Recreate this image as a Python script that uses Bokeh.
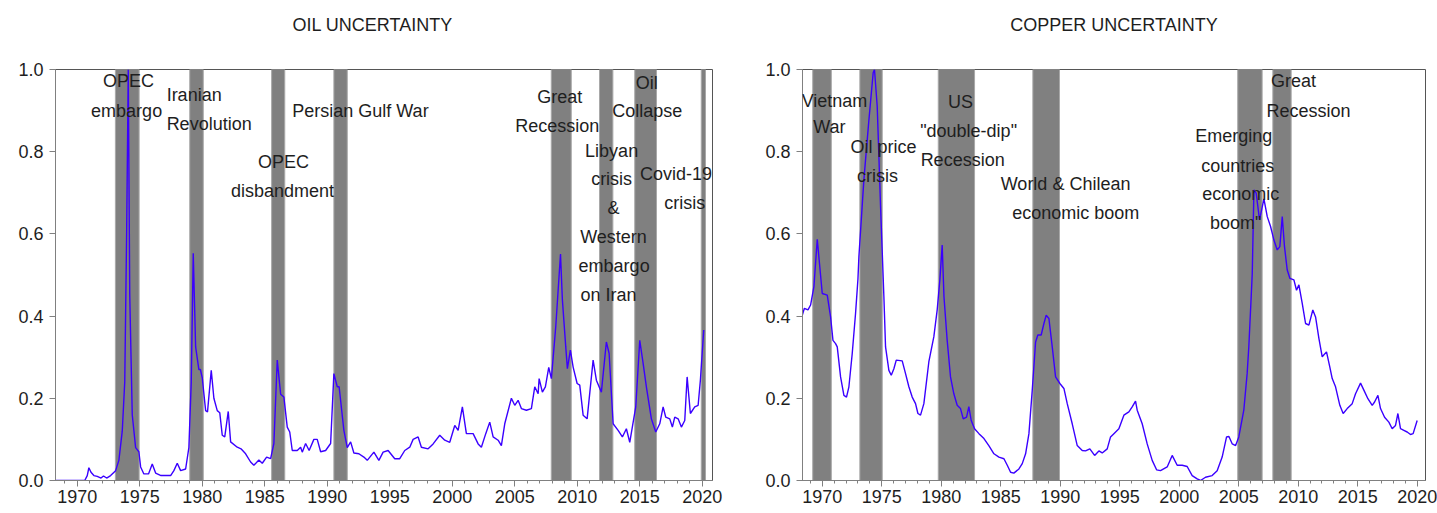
from bokeh.plotting import figure
from bokeh.layouts import row
from bokeh.models import Range1d, FixedTicker, ColumnDataSource, LabelSet
from bokeh.core.properties import value
from bokeh.embed import file_html
from bokeh.resources import INLINE

# ---------------- data ----------------
oil_year = [1968.27, 1970.6, 1970.8, 1970.93, 1971.1, 1971.33, 1971.6, 1971.9, 1972.1, 1972.35, 1972.67,
            1973.07, 1973.33, 1973.6, 1973.8, 1973.95, 1974.08, 1974.2, 1974.4, 1974.67, 1974.93, 1975.07,
            1975.33, 1975.7, 1976.0, 1976.27, 1976.7, 1977.47, 1977.73, 1978.0, 1978.27, 1978.67, 1978.93,
            1979.12, 1979.28, 1979.47, 1979.73, 1979.85, 1980.0, 1980.27, 1980.42, 1980.72, 1980.93, 1981.2,
            1981.4, 1981.6, 1981.8, 1982.08, 1982.27, 1982.8, 1983.1, 1983.47, 1983.87, 1984.13, 1984.53,
            1984.8, 1985.15, 1985.47, 1985.73, 1986.0, 1986.27, 1986.53, 1986.8, 1987.0, 1987.2, 1987.6,
            1987.87, 1988.0, 1988.27, 1988.55, 1988.93, 1989.2, 1989.47, 1989.87, 1990.27, 1990.53, 1990.8,
            1990.95, 1991.33, 1991.6, 1991.87, 1992.13, 1992.53, 1992.93, 1993.2, 1993.73, 1994.13, 1994.47,
            1994.87, 1995.4, 1995.8, 1996.2, 1996.6, 1996.87, 1997.27, 1997.53, 1998.07, 1998.47, 1999.0,
            1999.4, 1999.8, 2000.2, 2000.47, 2000.81, 2001.13, 2001.67, 2002.07, 2002.33, 2002.68, 2003.0,
            2003.27, 2003.67, 2003.93, 2004.2, 2004.73, 2005.0, 2005.27, 2005.53, 2005.93, 2006.33, 2006.6,
            2006.87, 2006.95, 2007.21, 2007.45, 2007.72, 2007.93, 2008.28, 2008.66, 2008.81, 2009.08, 2009.21,
            2009.45, 2009.67, 2009.99, 2010.2, 2010.47, 2010.79, 2011.27, 2011.53, 2011.93, 2012.33, 2012.55,
            2012.87, 2013.27, 2013.61, 2013.93, 2014.2, 2014.68, 2015.0, 2015.27, 2015.53, 2015.93, 2016.28,
            2016.6, 2016.87, 2017.08, 2017.4, 2017.61, 2017.8, 2018.07, 2018.33, 2018.6, 2018.79, 2019.05,
            2019.4, 2019.67, 2019.85, 2020.12]
oil_value = [0.0, 0.0, 0.012, 0.031, 0.02, 0.012, 0.01, 0.006, 0.011, 0.006, 0.012,
             0.024, 0.049, 0.12, 0.24, 0.6, 1.0, 0.45, 0.16, 0.08, 0.07, 0.033,
             0.016, 0.016, 0.04, 0.018, 0.012, 0.012, 0.024, 0.042, 0.024, 0.028, 0.08,
             0.24, 0.553, 0.325, 0.27, 0.27, 0.25, 0.17, 0.167, 0.268, 0.2, 0.17,
             0.165, 0.11, 0.106, 0.168, 0.094, 0.081, 0.077, 0.065, 0.045, 0.037, 0.05,
             0.042, 0.057, 0.053, 0.09, 0.293, 0.21, 0.203, 0.13, 0.118, 0.073, 0.073,
             0.081, 0.069, 0.09, 0.073, 0.1, 0.1, 0.07, 0.073, 0.09, 0.26, 0.228,
             0.228, 0.122, 0.08, 0.094, 0.067, 0.065, 0.057, 0.049, 0.069, 0.049, 0.069,
             0.073, 0.053, 0.053, 0.073, 0.081, 0.1, 0.106, 0.081, 0.077, 0.089, 0.11,
             0.098, 0.093, 0.134, 0.122, 0.179, 0.114, 0.114, 0.089, 0.081, 0.114, 0.142,
             0.106, 0.098, 0.085, 0.138, 0.2, 0.183, 0.195, 0.175, 0.171, 0.175, 0.228,
             0.211, 0.248, 0.215, 0.228, 0.275, 0.248, 0.374, 0.551, 0.44, 0.325, 0.272,
             0.317, 0.276, 0.236, 0.232, 0.159, 0.15, 0.293, 0.244, 0.215, 0.337, 0.309,
             0.138, 0.122, 0.106, 0.126, 0.093, 0.179, 0.341, 0.285, 0.228, 0.15, 0.118,
             0.138, 0.179, 0.154, 0.15, 0.13, 0.154, 0.15, 0.13, 0.146, 0.252, 0.163,
             0.179, 0.183, 0.244, 0.366]

copper_year = [1968.32, 1968.5, 1968.8, 1969.02, 1969.3, 1969.58, 1970.0, 1970.42, 1970.7, 1970.9, 1971.12,
               1971.26, 1971.54, 1971.82, 1972.04, 1972.24, 1972.52, 1972.8, 1973.0, 1973.08, 1973.5, 1973.9,
               1974.28, 1974.39, 1974.62, 1974.9, 1975.18, 1975.32, 1975.6, 1975.8, 1976.02, 1976.22, 1976.72,
               1977.0, 1977.28, 1977.56, 1977.84, 1978.04, 1978.26, 1978.54, 1978.96, 1979.38, 1979.66, 1979.89,
               1980.08, 1980.23, 1980.5, 1980.78, 1981.06, 1981.34, 1981.62, 1981.85, 1982.13, 1982.32, 1982.52,
               1982.8, 1983.17, 1983.59, 1984.0, 1984.43, 1984.85, 1985.27, 1985.55, 1985.83, 1986.1, 1986.53,
               1986.81, 1987.09, 1987.37, 1987.65, 1987.93, 1988.12, 1988.4, 1988.63, 1988.82, 1989.05, 1989.33,
               1989.61, 1989.97, 1990.31, 1990.59, 1991.01, 1991.43, 1991.85, 1992.13, 1992.49, 1992.89, 1993.25,
               1993.53, 1993.95, 1994.23, 1994.51, 1994.93, 1995.35, 1995.77, 1996.05, 1996.33, 1996.47, 1996.89,
               1997.31, 1997.73, 1998.1, 1998.43, 1998.99, 1999.41, 1999.83, 2000.25, 2000.67, 2001.09, 2001.51,
               2001.79, 2002.21, 2002.77, 2003.19, 2003.61, 2003.98, 2004.18, 2004.46, 2004.74, 2005.01, 2005.43,
               2005.71, 2005.85, 2006.05, 2006.14, 2006.28, 2006.47, 2006.75, 2007.12, 2007.4, 2007.68, 2007.96,
               2008.24, 2008.46, 2008.66, 2008.85, 2009.08, 2009.3, 2009.64, 2009.86, 2010.06, 2010.34, 2010.62,
               2010.9, 2011.23, 2011.46, 2011.74, 2012.02, 2012.38, 2012.66, 2012.86, 2013.14, 2013.5, 2013.78,
               2014.12, 2014.54, 2014.82, 2015.24, 2015.52, 2015.86, 2016.22, 2016.42, 2016.7, 2016.92, 2017.26,
               2017.62, 2017.9, 2018.18, 2018.38, 2018.6, 2018.88, 2019.16, 2019.44, 2019.66, 2020.0]
copper_value = [0.402, 0.419, 0.415, 0.427, 0.472, 0.587, 0.455, 0.451, 0.398, 0.341, 0.333,
                0.325, 0.252, 0.207, 0.203, 0.228, 0.309, 0.407, 0.49, 0.545, 0.732, 0.87,
                0.992, 1.0, 0.91, 0.667, 0.447, 0.325, 0.268, 0.256, 0.272, 0.293, 0.291,
                0.26, 0.228, 0.203, 0.187, 0.163, 0.159, 0.187, 0.289, 0.35, 0.415, 0.49,
                0.573, 0.447, 0.341, 0.252, 0.211, 0.183, 0.175, 0.15, 0.154, 0.18, 0.146,
                0.126, 0.114, 0.102, 0.085, 0.065, 0.057, 0.053, 0.037, 0.02, 0.018, 0.028,
                0.041, 0.065, 0.114, 0.22, 0.337, 0.354, 0.354, 0.382, 0.402, 0.394, 0.325,
                0.252, 0.236, 0.224, 0.187, 0.138, 0.085, 0.073, 0.072, 0.077, 0.061, 0.072,
                0.067, 0.077, 0.106, 0.114, 0.126, 0.159, 0.167, 0.179, 0.193, 0.171, 0.138,
                0.089, 0.049, 0.026, 0.024, 0.033, 0.061, 0.037, 0.037, 0.034, 0.012, 0.004,
                0.0, 0.008, 0.012, 0.024, 0.057, 0.106, 0.107, 0.089, 0.085, 0.106, 0.171,
                0.26, 0.325, 0.447, 0.504, 0.707, 0.699, 0.634, 0.685, 0.642, 0.618, 0.585,
                0.561, 0.569, 0.642, 0.569, 0.512, 0.492, 0.488, 0.463, 0.476, 0.431, 0.382,
                0.378, 0.415, 0.398, 0.346, 0.301, 0.313, 0.276, 0.248, 0.228, 0.183, 0.163,
                0.175, 0.187, 0.211, 0.237, 0.22, 0.199, 0.183, 0.191, 0.207, 0.175, 0.154,
                0.142, 0.126, 0.134, 0.163, 0.126, 0.122, 0.118, 0.112, 0.114, 0.146]

oil_band_start = [1973.05, 1979.0, 1985.55, 1990.53, 2007.92, 2011.78, 2014.6, 2019.92]
oil_band_end = [1974.95, 1980.08, 1986.6, 1991.6, 2009.52, 2012.85, 2016.34, 2020.26]
copper_band_start = [1969.2, 1973.16, 1979.75, 1987.7, 2004.92, 2007.87]
copper_band_end = [1970.76, 1975.04, 1982.8, 1989.94, 2006.97, 2009.41]

# annotations (one entry per text line)
oil_note_c_text = ["OPEC", "embargo", "OPEC", "disbandment", "Great", "Recession", "Oil", "Collapse",
                   "Libyan", "crisis", "&", "Western", "embargo", "on Iran", "Covid-19", "crisis"]
oil_note_c_x = [1974.1, 1973.95, 1986.5, 1986.42, 2008.6, 2008.4, 2015.55, 2015.6,
                2012.75, 2012.75, 2012.9, 2012.9, 2012.95, 2012.5, 2017.9, 2018.6]
oil_note_c_y = [0.971, 0.898, 0.776, 0.705, 0.934, 0.863, 0.968, 0.898,
                0.802, 0.734, 0.663, 0.593, 0.522, 0.451, 0.746, 0.676]
oil_note_l_text = ["Iranian", "Revolution", "Persian Gulf War"]
oil_note_l_x = [1977.15, 1977.15, 1987.2]
oil_note_l_y = [0.937, 0.868, 0.9]

copper_note_c_text = ["Vietnam", "War", "Oil price", "crisis", "US", "\"double-dip\"", "Recession",
                      "World & Chilean", "economic boom", "Great", "Recession",
                      "Emerging", "countries", "economic", "boom\""]
copper_note_c_x = [1971.03, 1970.6, 1975.15, 1974.65, 1981.62, 1982.3, 1981.8,
                   1990.45, 1991.3, 2009.6, 2010.87,
                   2004.58, 2004.92, 2005.17, 2004.75]
copper_note_c_y = [0.924, 0.859, 0.812, 0.741, 0.922, 0.851, 0.78,
                   0.722, 0.651, 0.971, 0.9,
                   0.837, 0.766, 0.698, 0.627]

y_ticks = [0.0, 0.2, 0.4, 0.6, 0.8, 1.0]
y_tick_labels = ["0.0", "0.2", "0.4", "0.6", "0.8", "1.0"]
x_ticks = [1970, 1975, 1980, 1985, 1990, 1995, 2000, 2005, 2010, 2015, 2020]
x_minor = list(range(1968, 2021))

FONT = "Liberation Sans"
TXT = "#1e1e1e"
LINE = "#3a00ff"


def make_panel(title, t_align, t_offset, xs, ys, b0, b1, notes_c, notes_l, x_start, x_end, width, bl, br):
    p = figure(width=width, height=510, output_backend="svg", toolbar_location=None,
               x_range=Range1d(x_start, x_end), y_range=Range1d(0.0, 1.0),
               min_border_left=bl, min_border_right=br, min_border_top=69, min_border_bottom=30,
               background_fill_color="white", border_fill_color="white")
    p.title.text = title + "\n"
    p.title.align = t_align
    p.title.offset = t_offset
    p.title.text_font = FONT
    p.title.text_font_size = "18px"
    p.title.text_font_style = "normal"
    p.title.text_color = TXT
    p.title.text_line_height = 1.7
    p.title.standoff = 2
    p.grid.visible = False
    p.outline_line_color = "#555555"
    p.outline_line_width = 1

    p.quad(left=b0, right=b1, bottom=0.0, top=1.0, fill_color="#808080",
           line_color="#a8a8a8", line_width=1)
    p.line(xs, ys, line_color=LINE, line_width=1.4)

    for (txt, x, y), align in ((notes_c, "center"), (notes_l, "left")):
        if not txt:
            continue
        src = ColumnDataSource(dict(x=x, y=y, t=txt))
        p.add_layout(LabelSet(x="x", y="y", text="t", source=src, text_align=align,
                              text_baseline="middle", text_font=value(FONT),
                              text_font_size=value("18px"), text_color=TXT))

    p.xaxis.ticker = FixedTicker(ticks=x_ticks, minor_ticks=x_minor)
    p.yaxis.ticker = FixedTicker(ticks=y_ticks, minor_ticks=[])
    p.yaxis.major_label_overrides = {t: l for t, l in zip(y_ticks, y_tick_labels)}
    for ax in (p.xaxis, p.yaxis):
        ax.axis_line_color = "#808080"
        ax.major_tick_line_color = "#808080"
        ax.minor_tick_line_color = "#808080"
        ax.major_label_text_font = FONT
        ax.major_label_text_font_size = "18px"
        ax.major_label_text_color = TXT
        ax.major_tick_in = 0
        ax.minor_tick_in = 0
    p.xaxis.major_tick_out = 6
    p.xaxis.minor_tick_out = 3
    p.xaxis.major_label_standoff = 3
    p.yaxis.major_tick_out = 6
    p.yaxis.minor_tick_out = 0
    p.yaxis.major_label_standoff = 6
    return p


p1 = make_panel("OIL UNCERTAINTY", "left", 237, oil_year, oil_value, oil_band_start, oil_band_end,
                (oil_note_c_text, oil_note_c_x, oil_note_c_y),
                (oil_note_l_text, oil_note_l_x, oil_note_l_y),
                1968.26, 2020.82, 728, 55, 16)
p2 = make_panel("COPPER UNCERTAINTY", "center", 0, copper_year, copper_value, copper_band_start, copper_band_end,
                (copper_note_c_text, copper_note_c_x, copper_note_c_y),
                ([], [], []),
                1968.34, 2020.70, 709, 74, 12)

layout = row(p1, p2, spacing=0)
open("out.html", "w").write(file_html(layout, INLINE))
